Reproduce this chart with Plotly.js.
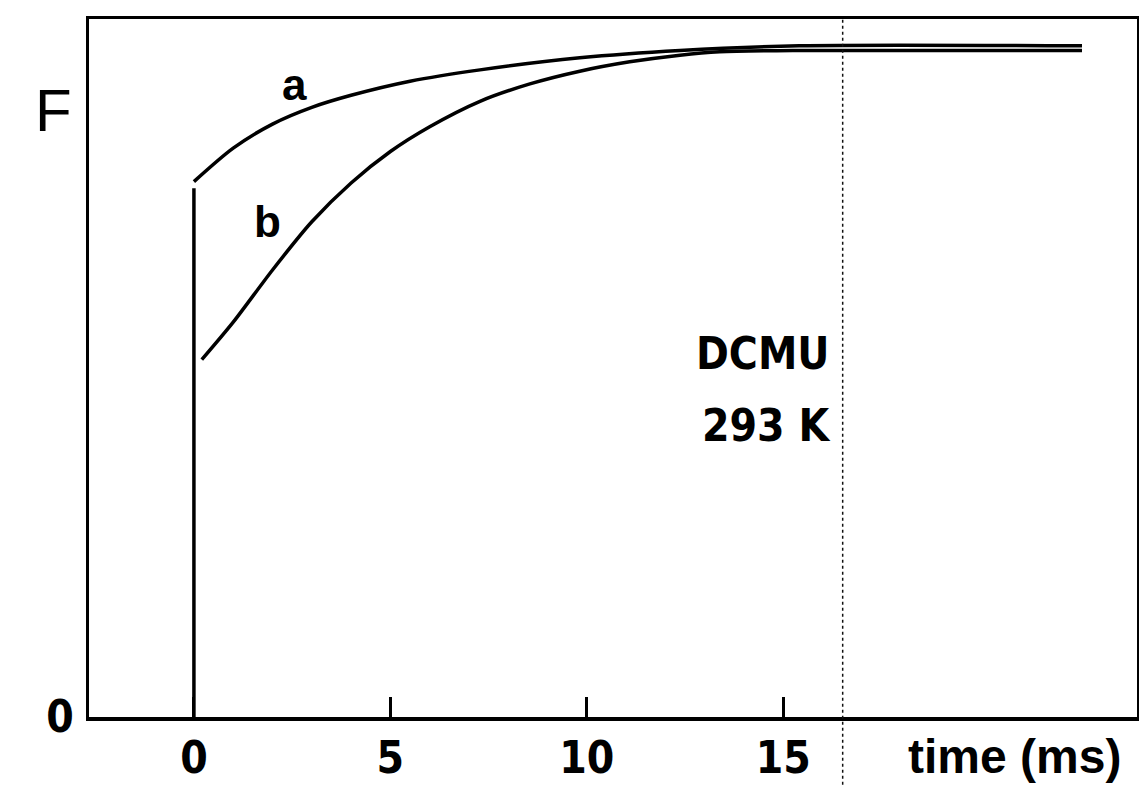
<!DOCTYPE html>
<html>
<head>
<meta charset="utf-8">
<script src="https://cdn.plot.ly/plotly-3.0.1.min.js"></script>
<style>html,body{margin:0;padding:0;background:#fff;}#chart{width:1139px;height:787px;}</style>
</head>
<body>
<div id="chart"></div>
<script>
// Curve a (time in ms, relative fluorescence F)
const timeA = [0, 1.0, 2.0, 3.0, 4.0, 5.5, 7.28, 9.82, 12.37, 15.4, 22.6];
const fluoA = [0.800, 0.850, 0.886, 0.911, 0.929, 0.950, 0.967, 0.985, 0.996, 1.003, 1.003];
// Curve b
const timeB = [0.20, 1.0, 2.0, 3.0, 4.0, 5.0, 6.0, 7.28, 8.55, 9.82, 11.09, 12.37, 13.38, 15.4, 22.6];
const fluoB = [0.534, 0.590, 0.668, 0.740, 0.798, 0.845, 0.882, 0.920, 0.946, 0.965, 0.979, 0.989, 0.994, 0.996, 0.996];
// Vertical rise at t = 0
const timeRise = [0, 0];
const fluoRise = [0, 0.79];
// Axis ticks
const xTickVals = [0, 5, 10, 15];
const xTickText = ['0', '5', '10', '15'];
const yTickVals = [0];
const yTickText = ['0'];
// Dotted marker time
const markerTime = 16.51;

const lineStyle = {color: '#000', width: 3.5};
const traces = [
  {x: timeRise, y: fluoRise, mode: 'lines', line: lineStyle, hoverinfo: 'skip'},
  {x: timeA, y: fluoA, mode: 'lines', line: Object.assign({shape: 'spline', smoothing: 0.8}, lineStyle)},
  {x: timeB, y: fluoB, mode: 'lines', line: Object.assign({shape: 'spline', smoothing: 0.8}, lineStyle)}
];

const narrow = {family: 'DejaVu Sans Condensed, Liberation Sans Narrow, sans-serif', color: '#000', size: 44, weight: 'bold'};

const layout = {
  width: 1139, height: 787,
  margin: {l: 89, r: 2, t: 19, b: 70},
  paper_bgcolor: '#fff', plot_bgcolor: '#fff',
  showlegend: false,
  xaxis: {
    range: [-2.67, 24.0], showline: true, linewidth: 3.5, linecolor: '#000', mirror: true,
    ticks: 'inside', ticklen: 20, tickwidth: 3, tickcolor: '#000',
    tickvals: xTickVals, ticktext: xTickText, tickfont: narrow,
    ticklabelstandoff: 0,
    showgrid: false, zeroline: false
  },
  yaxis: {
    range: [0, 1.043], showline: true, linewidth: 3.5, linecolor: '#000', mirror: true,
    ticks: '', tickvals: yTickVals, ticktext: yTickText, tickfont: narrow,
    ticklabelstandoff: 3,
    showgrid: false, zeroline: false
  },
  shapes: [
    {type: 'line', xref: 'x', yref: 'paper', x0: markerTime, x1: markerTime, y0: -0.097, y1: 1,
     line: {color: '#111', width: 1.5, dash: 'dot'}}
  ],
  annotations: [
    {xref: 'paper', yref: 'paper', x: -0.0534, y: 0.92, text: 'F', showarrow: false,
     font: {family: 'Liberation Sans, Arial, sans-serif', size: 60, color: '#000'}},
    {xref: 'x', yref: 'y', x: 2.57, y: 0.945, text: 'a', showarrow: false,
     font: {family: 'Liberation Sans, Arial, sans-serif', size: 44, color: '#000', weight: 'bold'}},
    {xref: 'x', yref: 'y', x: 1.88, y: 0.74, text: 'b', showarrow: false,
     font: {family: 'Liberation Sans, Arial, sans-serif', size: 44, color: '#000', weight: 'bold'}},
    {xref: 'x', yref: 'y', x: 14.48, y: 0.543, text: 'DCMU', showarrow: false,
     font: {family: 'DejaVu Sans Condensed, Liberation Sans Narrow, sans-serif', size: 44, color: '#000', weight: 'bold'}},
    {xref: 'x', yref: 'y', x: 14.55, y: 0.436, text: '293 K', showarrow: false,
     font: {family: 'DejaVu Sans Condensed, Liberation Sans Narrow, sans-serif', size: 44, color: '#000', weight: 'bold'}},
    {xref: 'paper', yref: 'paper', x: 0.883, y: -0.057, xanchor: 'center', yanchor: 'middle', text: 'time (ms)', showarrow: false,
     font: {family: 'Liberation Sans, Arial, sans-serif', size: 48, color: '#000', weight: 'bold'}}
  ]
};

Plotly.newPlot('chart', traces, layout, {displayModeBar: false, staticPlot: true});
</script>
</body>
</html>
